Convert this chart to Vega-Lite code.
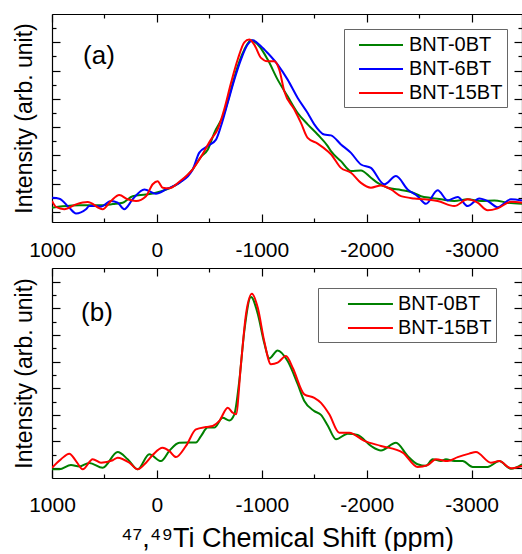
{
  "$schema": "https://vega.github.io/schema/vega-lite/v6.json",
  "padding": {"left": 13, "top": 13, "right": 0, "bottom": 0},
  "background": "white",
  "spacing": 46,
  "bounds": "flush",
  "config": {
    "view": {"stroke": null},
    "font": "Liberation Sans",
    "axis": {"grid": false, "domainColor": "#000", "domainWidth": 1.2, "tickColor": "#000", "tickWidth": 1.2, "labelColor": "#000", "labelFont": "Liberation Sans", "labelFontSize": 21, "titleFont": "Liberation Sans", "titleColor": "#000", "titleFontWeight": "normal"},
    "legend": {"symbolSize": 484, "symbolStrokeWidth": 2, "labelFont": "Liberation Sans", "labelFontSize": 20, "labelColor": "#000", "fillColor": "#fff", "strokeColor": "#666", "padding": 4, "rowPadding": 2}
  },
  "resolve": {"scale": {"color": "independent"}, "legend": {"color": "independent"}},
  "datasets": {
    "a": [
      {"s":"BNT-0BT","ppm":1000,"I":0.15},{"s":"BNT-0BT","ppm":900,"I":0.2},{"s":"BNT-0BT","ppm":740,"I":0.24},{"s":"BNT-0BT","ppm":517,"I":0.24},{"s":"BNT-0BT","ppm":420,"I":0.28},{"s":"BNT-0BT","ppm":326,"I":0.33},{"s":"BNT-0BT","ppm":231,"I":0.56},{"s":"BNT-0BT","ppm":104,"I":0.62},{"s":"BNT-0BT","ppm":9,"I":0.68},{"s":"BNT-0BT","ppm":-118,"I":0.84},{"s":"BNT-0BT","ppm":-213,"I":1.03},{"s":"BNT-0BT","ppm":-341,"I":1.51},{"s":"BNT-0BT","ppm":-420,"I":1.95},{"s":"BNT-0BT","ppm":-484,"I":2.2},{"s":"BNT-0BT","ppm":-547,"I":2.8},{"s":"BNT-0BT","ppm":-642,"I":3.5},{"s":"BNT-0BT","ppm":-706,"I":4.33},{"s":"BNT-0BT","ppm":-770,"I":5.15},{"s":"BNT-0BT","ppm":-833,"I":5.74},{"s":"BNT-0BT","ppm":-897,"I":6.07},{"s":"BNT-0BT","ppm":-976,"I":5.86},{"s":"BNT-0BT","ppm":-1056,"I":5.39},{"s":"BNT-0BT","ppm":-1151,"I":4.68},{"s":"BNT-0BT","ppm":-1246,"I":4.09},{"s":"BNT-0BT","ppm":-1342,"I":3.5},{"s":"BNT-0BT","ppm":-1437,"I":3.1},{"s":"BNT-0BT","ppm":-1532,"I":2.74},{"s":"BNT-0BT","ppm":-1628,"I":2.33},{"s":"BNT-0BT","ppm":-1659,"I":2.15},{"s":"BNT-0BT","ppm":-1754,"I":1.8},{"s":"BNT-0BT","ppm":-1850,"I":1.45},{"s":"BNT-0BT","ppm":-1945,"I":1.47},{"s":"BNT-0BT","ppm":-2040,"I":1.21},{"s":"BNT-0BT","ppm":-2104,"I":1.03},{"s":"BNT-0BT","ppm":-2200,"I":0.86},{"s":"BNT-0BT","ppm":-2326,"I":0.78},{"s":"BNT-0BT","ppm":-2422,"I":0.71},{"s":"BNT-0BT","ppm":-2517,"I":0.56},{"s":"BNT-0BT","ppm":-2612,"I":0.5},{"s":"BNT-0BT","ppm":-2708,"I":0.45},{"s":"BNT-0BT","ppm":-2834,"I":0.39},{"s":"BNT-0BT","ppm":-2962,"I":0.45},{"s":"BNT-0BT","ppm":-3089,"I":0.39},{"s":"BNT-0BT","ppm":-3216,"I":0.41},{"s":"BNT-0BT","ppm":-3343,"I":0.33},{"s":"BNT-0BT","ppm":-3480,"I":0.29},
      {"s":"BNT-6BT","ppm":1000,"I":0.5},{"s":"BNT-6BT","ppm":930,"I":0.47},{"s":"BNT-6BT","ppm":835,"I":0.15},{"s":"BNT-6BT","ppm":771,"I":-0.05},{"s":"BNT-6BT","ppm":676,"I":0.1},{"s":"BNT-6BT","ppm":644,"I":0.21},{"s":"BNT-6BT","ppm":581,"I":0.21},{"s":"BNT-6BT","ppm":533,"I":0.19},{"s":"BNT-6BT","ppm":438,"I":0.39},{"s":"BNT-6BT","ppm":374,"I":0.33},{"s":"BNT-6BT","ppm":311,"I":0.1},{"s":"BNT-6BT","ppm":231,"I":0.45},{"s":"BNT-6BT","ppm":120,"I":0.8},{"s":"BNT-6BT","ppm":9,"I":0.65},{"s":"BNT-6BT","ppm":-87,"I":0.8},{"s":"BNT-6BT","ppm":-213,"I":1.03},{"s":"BNT-6BT","ppm":-341,"I":1.5},{"s":"BNT-6BT","ppm":-404,"I":2.1},{"s":"BNT-6BT","ppm":-484,"I":2.33},{"s":"BNT-6BT","ppm":-563,"I":2.56},{"s":"BNT-6BT","ppm":-611,"I":3.04},{"s":"BNT-6BT","ppm":-675,"I":3.86},{"s":"BNT-6BT","ppm":-738,"I":4.68},{"s":"BNT-6BT","ppm":-801,"I":5.39},{"s":"BNT-6BT","ppm":-865,"I":5.92},{"s":"BNT-6BT","ppm":-913,"I":6.07},{"s":"BNT-6BT","ppm":-992,"I":5.86},{"s":"BNT-6BT","ppm":-1056,"I":5.62},{"s":"BNT-6BT","ppm":-1151,"I":5.21},{"s":"BNT-6BT","ppm":-1246,"I":4.68},{"s":"BNT-6BT","ppm":-1342,"I":4.03},{"s":"BNT-6BT","ppm":-1437,"I":3.5},{"s":"BNT-6BT","ppm":-1500,"I":3.1},{"s":"BNT-6BT","ppm":-1595,"I":2.74},{"s":"BNT-6BT","ppm":-1659,"I":2.71},{"s":"BNT-6BT","ppm":-1754,"I":2.39},{"s":"BNT-6BT","ppm":-1850,"I":2.09},{"s":"BNT-6BT","ppm":-1945,"I":1.68},{"s":"BNT-6BT","ppm":-2040,"I":1.56},{"s":"BNT-6BT","ppm":-2167,"I":0.98},{"s":"BNT-6BT","ppm":-2279,"I":1.27},{"s":"BNT-6BT","ppm":-2390,"I":0.8},{"s":"BNT-6BT","ppm":-2485,"I":0.56},{"s":"BNT-6BT","ppm":-2565,"I":0.29},{"s":"BNT-6BT","ppm":-2676,"I":0.77},{"s":"BNT-6BT","ppm":-2771,"I":0.41},{"s":"BNT-6BT","ppm":-2867,"I":0.53},{"s":"BNT-6BT","ppm":-2962,"I":0.21},{"s":"BNT-6BT","ppm":-3073,"I":0.48},{"s":"BNT-6BT","ppm":-3153,"I":0.39},{"s":"BNT-6BT","ppm":-3248,"I":0.17},{"s":"BNT-6BT","ppm":-3375,"I":0.45},{"s":"BNT-6BT","ppm":-3480,"I":0.41},
      {"s":"BNT-15BT","ppm":1000,"I":0.39},{"s":"BNT-15BT","ppm":962,"I":0.18},{"s":"BNT-15BT","ppm":883,"I":0.1},{"s":"BNT-15BT","ppm":771,"I":0.27},{"s":"BNT-15BT","ppm":660,"I":0.35},{"s":"BNT-15BT","ppm":517,"I":0.1},{"s":"BNT-15BT","ppm":438,"I":0.39},{"s":"BNT-15BT","ppm":359,"I":0.6},{"s":"BNT-15BT","ppm":279,"I":0.45},{"s":"BNT-15BT","ppm":199,"I":0.39},{"s":"BNT-15BT","ppm":104,"I":0.56},{"s":"BNT-15BT","ppm":40,"I":0.98},{"s":"BNT-15BT","ppm":-7,"I":1.09},{"s":"BNT-15BT","ppm":-55,"I":0.86},{"s":"BNT-15BT","ppm":-118,"I":0.84},{"s":"BNT-15BT","ppm":-213,"I":1.07},{"s":"BNT-15BT","ppm":-341,"I":1.51},{"s":"BNT-15BT","ppm":-420,"I":1.95},{"s":"BNT-15BT","ppm":-515,"I":2.56},{"s":"BNT-15BT","ppm":-579,"I":2.92},{"s":"BNT-15BT","ppm":-642,"I":3.63},{"s":"BNT-15BT","ppm":-706,"I":4.56},{"s":"BNT-15BT","ppm":-770,"I":5.39},{"s":"BNT-15BT","ppm":-833,"I":6.0},{"s":"BNT-15BT","ppm":-880,"I":6.1},{"s":"BNT-15BT","ppm":-928,"I":5.92},{"s":"BNT-15BT","ppm":-992,"I":5.45},{"s":"BNT-15BT","ppm":-1056,"I":5.33},{"s":"BNT-15BT","ppm":-1119,"I":5.33},{"s":"BNT-15BT","ppm":-1166,"I":5.04},{"s":"BNT-15BT","ppm":-1214,"I":4.27},{"s":"BNT-15BT","ppm":-1309,"I":3.63},{"s":"BNT-15BT","ppm":-1373,"I":3.15},{"s":"BNT-15BT","ppm":-1437,"I":2.62},{"s":"BNT-15BT","ppm":-1532,"I":2.42},{"s":"BNT-15BT","ppm":-1628,"I":2.15},{"s":"BNT-15BT","ppm":-1659,"I":2.04},{"s":"BNT-15BT","ppm":-1754,"I":1.56},{"s":"BNT-15BT","ppm":-1850,"I":1.39},{"s":"BNT-15BT","ppm":-1945,"I":1.03},{"s":"BNT-15BT","ppm":-2040,"I":0.86},{"s":"BNT-15BT","ppm":-2136,"I":0.94},{"s":"BNT-15BT","ppm":-2231,"I":0.8},{"s":"BNT-15BT","ppm":-2326,"I":0.56},{"s":"BNT-15BT","ppm":-2453,"I":0.48},{"s":"BNT-15BT","ppm":-2548,"I":0.45},{"s":"BNT-15BT","ppm":-2676,"I":0.39},{"s":"BNT-15BT","ppm":-2834,"I":0.21},{"s":"BNT-15BT","ppm":-2962,"I":0.45},{"s":"BNT-15BT","ppm":-3057,"I":0.33},{"s":"BNT-15BT","ppm":-3153,"I":0.06},{"s":"BNT-15BT","ppm":-3248,"I":0.13},{"s":"BNT-15BT","ppm":-3375,"I":0.36},{"s":"BNT-15BT","ppm":-3480,"I":0.33}
    ],
    "b": [
      {"s":"BNT-0BT","ppm":1000,"I":-0.05},{"s":"BNT-0BT","ppm":930,"I":-0.05},{"s":"BNT-0BT","ppm":819,"I":0.11},{"s":"BNT-0BT","ppm":740,"I":0.06},{"s":"BNT-0BT","ppm":644,"I":0.19},{"s":"BNT-0BT","ppm":517,"I":0.01},{"s":"BNT-0BT","ppm":374,"I":0.6},{"s":"BNT-0BT","ppm":279,"I":0.33},{"s":"BNT-0BT","ppm":183,"I":-0.05},{"s":"BNT-0BT","ppm":73,"I":0.52},{"s":"BNT-0BT","ppm":-39,"I":0.26},{"s":"BNT-0BT","ppm":-118,"I":0.64},{"s":"BNT-0BT","ppm":-213,"I":0.95},{"s":"BNT-0BT","ppm":-372,"I":0.96},{"s":"BNT-0BT","ppm":-420,"I":1.2},{"s":"BNT-0BT","ppm":-484,"I":1.52},{"s":"BNT-0BT","ppm":-547,"I":1.52},{"s":"BNT-0BT","ppm":-627,"I":1.89},{"s":"BNT-0BT","ppm":-690,"I":1.79},{"s":"BNT-0BT","ppm":-738,"I":2.02},{"s":"BNT-0BT","ppm":-785,"I":3.27},{"s":"BNT-0BT","ppm":-833,"I":5.15},{"s":"BNT-0BT","ppm":-897,"I":6.43},{"s":"BNT-0BT","ppm":-961,"I":5.8},{"s":"BNT-0BT","ppm":-1023,"I":4.7},{"s":"BNT-0BT","ppm":-1071,"I":4.12},{"s":"BNT-0BT","ppm":-1151,"I":4.42},{"s":"BNT-0BT","ppm":-1246,"I":4.02},{"s":"BNT-0BT","ppm":-1342,"I":3.15},{"s":"BNT-0BT","ppm":-1405,"I":2.52},{"s":"BNT-0BT","ppm":-1500,"I":2.14},{"s":"BNT-0BT","ppm":-1564,"I":2.0},{"s":"BNT-0BT","ppm":-1628,"I":1.6},{"s":"BNT-0BT","ppm":-1707,"I":1.08},{"s":"BNT-0BT","ppm":-1818,"I":1.29},{"s":"BNT-0BT","ppm":-1914,"I":1.24},{"s":"BNT-0BT","ppm":-2040,"I":0.83},{"s":"BNT-0BT","ppm":-2136,"I":0.66},{"s":"BNT-0BT","ppm":-2279,"I":0.95},{"s":"BNT-0BT","ppm":-2390,"I":0.45},{"s":"BNT-0BT","ppm":-2485,"I":0.14},{"s":"BNT-0BT","ppm":-2565,"I":0.08},{"s":"BNT-0BT","ppm":-2628,"I":0.33},{"s":"BNT-0BT","ppm":-2708,"I":0.26},{"s":"BNT-0BT","ppm":-2755,"I":0.33},{"s":"BNT-0BT","ppm":-2834,"I":0.26},{"s":"BNT-0BT","ppm":-2914,"I":0.26},{"s":"BNT-0BT","ppm":-3010,"I":0.04},{"s":"BNT-0BT","ppm":-3153,"I":0.04},{"s":"BNT-0BT","ppm":-3263,"I":0.26},{"s":"BNT-0BT","ppm":-3375,"I":-0.03},{"s":"BNT-0BT","ppm":-3480,"I":0.14},
      {"s":"BNT-15BT","ppm":1000,"I":0.01},{"s":"BNT-15BT","ppm":914,"I":0.33},{"s":"BNT-15BT","ppm":835,"I":0.54},{"s":"BNT-15BT","ppm":771,"I":0.26},{"s":"BNT-15BT","ppm":707,"I":-0.05},{"s":"BNT-15BT","ppm":612,"I":0.33},{"s":"BNT-15BT","ppm":533,"I":0.2},{"s":"BNT-15BT","ppm":421,"I":0.29},{"s":"BNT-15BT","ppm":374,"I":0.39},{"s":"BNT-15BT","ppm":263,"I":0.2},{"s":"BNT-15BT","ppm":183,"I":-0.05},{"s":"BNT-15BT","ppm":104,"I":0.2},{"s":"BNT-15BT","ppm":40,"I":0.49},{"s":"BNT-15BT","ppm":-55,"I":0.76},{"s":"BNT-15BT","ppm":-118,"I":0.64},{"s":"BNT-15BT","ppm":-182,"I":0.41},{"s":"BNT-15BT","ppm":-277,"I":0.83},{"s":"BNT-15BT","ppm":-372,"I":1.45},{"s":"BNT-15BT","ppm":-468,"I":1.54},{"s":"BNT-15BT","ppm":-532,"I":1.58},{"s":"BNT-15BT","ppm":-595,"I":1.77},{"s":"BNT-15BT","ppm":-675,"I":2.27},{"s":"BNT-15BT","ppm":-722,"I":2.08},{"s":"BNT-15BT","ppm":-754,"I":2.02},{"s":"BNT-15BT","ppm":-801,"I":3.9},{"s":"BNT-15BT","ppm":-849,"I":5.78},{"s":"BNT-15BT","ppm":-906,"I":6.55},{"s":"BNT-15BT","ppm":-961,"I":6.03},{"s":"BNT-15BT","ppm":-1023,"I":4.77},{"s":"BNT-15BT","ppm":-1087,"I":3.9},{"s":"BNT-15BT","ppm":-1151,"I":3.96},{"s":"BNT-15BT","ppm":-1230,"I":4.21},{"s":"BNT-15BT","ppm":-1294,"I":3.77},{"s":"BNT-15BT","ppm":-1405,"I":2.77},{"s":"BNT-15BT","ppm":-1500,"I":2.64},{"s":"BNT-15BT","ppm":-1564,"I":2.45},{"s":"BNT-15BT","ppm":-1643,"I":2.02},{"s":"BNT-15BT","ppm":-1738,"I":1.33},{"s":"BNT-15BT","ppm":-1834,"I":1.33},{"s":"BNT-15BT","ppm":-1977,"I":1.02},{"s":"BNT-15BT","ppm":-2136,"I":0.83},{"s":"BNT-15BT","ppm":-2343,"I":0.58},{"s":"BNT-15BT","ppm":-2485,"I":0.04},{"s":"BNT-15BT","ppm":-2581,"I":0.11},{"s":"BNT-15BT","ppm":-2660,"I":0.33},{"s":"BNT-15BT","ppm":-2771,"I":0.26},{"s":"BNT-15BT","ppm":-2867,"I":0.41},{"s":"BNT-15BT","ppm":-2977,"I":0.54},{"s":"BNT-15BT","ppm":-3041,"I":0.6},{"s":"BNT-15BT","ppm":-3184,"I":0.2},{"s":"BNT-15BT","ppm":-3263,"I":0.26},{"s":"BNT-15BT","ppm":-3375,"I":-0.01},{"s":"BNT-15BT","ppm":-3480,"I":0.08}
    ]
  },
  "vconcat": [
    {
      "width": 470, "height": 208,
      "data": {"name": "a"},
      "layer": [
        {
          "mark": {"type": "line", "clip": true, "strokeWidth": 2, "interpolate": "monotone"},
          "encoding": {
            "x": {"field": "ppm", "type": "quantitative", "scale": {"domain": [1000, -3480], "nice": false, "zero": false},
              "axis": {"orient": "bottom", "title": null, "values": [1000, 500, 0, -500, -1000, -1500, -2000, -2500, -3000],
                "tickSize": {"condition": {"test": "datum.value % 1000 === 0", "value": -8}, "value": -4},
                "labelExpr": "datum.value % 1000 === 0 ? '' + datum.value : ''", "labelPadding": 25, "labelFlush": false, "labelOverlap": false}},
            "y": {"field": "I", "type": "quantitative", "scale": {"domain": [-0.353, 7.0], "nice": false, "zero": false},
              "axis": {"orient": "left", "title": "Intensity (arb. unit)", "titleFontSize": 23, "titlePadding": 15, "labels": false,
                "values": [0, 0.5, 1, 1.5, 2, 2.5, 3, 3.5, 4, 4.5, 5, 5.5, 6, 6.5],
                "tickSize": {"condition": {"test": "datum.value % 1 === 0", "value": -8}, "value": -4}}},
            "color": {"field": "s", "type": "nominal", "scale": {"domain": ["BNT-0BT", "BNT-6BT", "BNT-15BT"], "range": ["#008000", "#0000ff", "#ff0000"]},
              "legend": {"title": null, "orient": "none", "legendX": 292, "legendY": 15, "symbolType": "M-0.09,0H3.91", "labelOffset": 37}}
          }
        },
        {
          "mark": {"type": "point", "opacity": 0},
          "encoding": {
            "x": {"field": "ppm", "type": "quantitative", "scale": {"domain": [1000, -3480], "nice": false, "zero": false},
              "axis": {"orient": "top", "title": null, "labels": false, "values": [1000, 500, 0, -500, -1000, -1500, -2000, -2500, -3000],
                "tickSize": {"condition": {"test": "datum.value % 1000 === 0", "value": -8}, "value": -4}}},
            "y": {"field": "I", "type": "quantitative", "scale": {"domain": [-0.353, 7.0], "nice": false, "zero": false},
              "axis": {"orient": "right", "title": null, "labels": false, "values": [0, 0.5, 1, 1.5, 2, 2.5, 3, 3.5, 4, 4.5, 5, 5.5, 6, 6.5],
                "tickSize": {"condition": {"test": "datum.value % 1 === 0", "value": -8}, "value": -4}}}
          }
        },
        {
          "data": {"values": [{"t": "(a)", "ppm": 552, "I": 5.5}]},
          "mark": {"type": "text", "fontSize": 26, "font": "Liberation Sans", "color": "#000", "align": "center", "baseline": "middle"},
          "encoding": {
            "x": {"field": "ppm", "type": "quantitative", "axis": null},
            "y": {"field": "I", "type": "quantitative", "axis": null},
            "text": {"field": "t", "type": "nominal"}
          }
        }
      ],
      "resolve": {"axis": {"x": "independent", "y": "independent"}}
    },
    {
      "width": 470, "height": 210,
      "data": {"name": "b"},
      "layer": [
        {
          "mark": {"type": "line", "clip": true, "strokeWidth": 2, "interpolate": "monotone"},
          "encoding": {
            "x": {"field": "ppm", "type": "quantitative", "scale": {"domain": [1000, -3480], "nice": false, "zero": false},
              "axis": {"orient": "bottom", "title": "⁴⁷,⁴⁹Ti Chemical Shift (ppm)", "titleFontSize": 27, "titlePadding": 6, "values": [1000, 500, 0, -500, -1000, -1500, -2000, -2500, -3000],
                "tickSize": {"condition": {"test": "datum.value % 1000 === 0", "value": -8}, "value": -4},
                "labelExpr": "datum.value % 1000 === 0 ? '' + datum.value : ''", "labelPadding": 24, "labelFlush": false, "labelOverlap": false}},
            "y": {"field": "I", "type": "quantitative", "scale": {"domain": [-0.376, 7.52], "nice": false, "zero": false},
              "axis": {"orient": "left", "title": "Intensity (arb. unit)", "titleFontSize": 23, "titlePadding": 15, "labels": false,
                "values": [0, 0.5, 1, 1.5, 2, 2.5, 3, 3.5, 4, 4.5, 5, 5.5, 6, 6.5, 7],
                "tickSize": {"condition": {"test": "datum.value % 1 === 0", "value": -8}, "value": -4}}},
            "color": {"field": "s", "type": "nominal", "scale": {"domain": ["BNT-0BT", "BNT-15BT"], "range": ["#008000", "#ff0000"]},
              "legend": {"title": null, "orient": "none", "legendX": 266, "legendY": 20, "symbolType": "M1.27,0H5.36", "labelOffset": 52}}
          }
        },
        {
          "mark": {"type": "point", "opacity": 0},
          "encoding": {
            "x": {"field": "ppm", "type": "quantitative", "scale": {"domain": [1000, -3480], "nice": false, "zero": false},
              "axis": {"orient": "top", "title": null, "labels": false, "values": [1000, 500, 0, -500, -1000, -1500, -2000, -2500, -3000],
                "tickSize": {"condition": {"test": "datum.value % 1000 === 0", "value": -8}, "value": -4}}},
            "y": {"field": "I", "type": "quantitative", "scale": {"domain": [-0.376, 7.52], "nice": false, "zero": false},
              "axis": {"orient": "right", "title": null, "labels": false, "values": [0, 0.5, 1, 1.5, 2, 2.5, 3, 3.5, 4, 4.5, 5, 5.5, 6, 6.5, 7],
                "tickSize": {"condition": {"test": "datum.value % 1 === 0", "value": -8}, "value": -4}}}
          }
        },
        {
          "data": {"values": [{"t": "(b)", "ppm": 571, "I": 5.84}]},
          "mark": {"type": "text", "fontSize": 26, "font": "Liberation Sans", "color": "#000", "align": "center", "baseline": "middle"},
          "encoding": {
            "x": {"field": "ppm", "type": "quantitative", "axis": null},
            "y": {"field": "I", "type": "quantitative", "axis": null},
            "text": {"field": "t", "type": "nominal"}
          }
        }
      ],
      "resolve": {"axis": {"x": "independent", "y": "independent"}}
    }
  ]
}
